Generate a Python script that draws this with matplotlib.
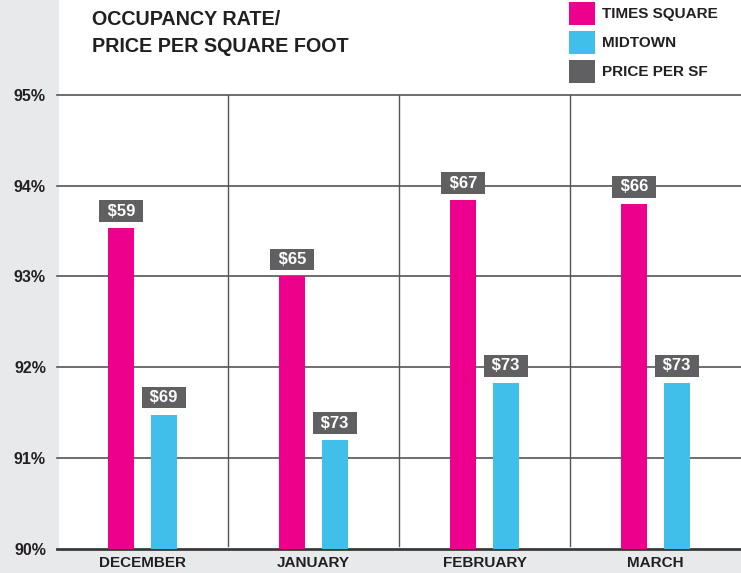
import matplotlib
matplotlib.use('Agg')
import matplotlib.pyplot as plt
from matplotlib.patches import Rectangle
import numpy as np

# Chart data
months = ['DECEMBER', 'JANUARY', 'FEBRUARY', 'MARCH']
times_square = [93.53, 93.00, 93.84, 93.80]
midtown = [91.48, 91.20, 91.83, 91.83]
price_times_square = [59, 65, 67, 66]
price_midtown = [69, 73, 73, 73]
y_ticks = [90, 91, 92, 93, 94, 95]
legend_labels = ['TIMES SQUARE', 'MIDTOWN', 'PRICE PER SF']

# Colours
pink = '#ec008c'
cyan = '#3fbfea'
dark = '#606062'
bg_gray = '#e8e9eb'
ink = '#231f20'
line_col = '#555555'

plt.rcParams['font.family'] = ['Liberation Sans', 'DejaVu Sans']

W, H = 741, 573
fig = plt.figure(figsize=(W / 100, H / 100), dpi=100, facecolor=bg_gray)

# White panel behind the plot
fig.patches.append(Rectangle((59 / W, (H - 550) / H), 1 - 59 / W, 550 / H,
                             transform=fig.transFigure, facecolor='white',
                             edgecolor='none', zorder=-5))

ax = fig.add_axes([57 / W, (H - 549) / H, 1 - 57 / W, (549 - 94.7) / H])
ax.set_zorder(1)
ax.set_facecolor('none')
ax.set_xlim(-0.5, 3.5)
ax.set_ylim(90, 95)
for s in ax.spines.values():
    s.set_visible(False)

# Horizontal grid lines
for t in y_ticks:
    ax.axhline(t, color='#3a3a3a' if t == 90 else line_col,
               lw=2.0 if t == 90 else 1.2, clip_on=False, zorder=1)

# Vertical separators between months
for xs in [0.5, 1.5, 2.5]:
    ax.axvline(xs, ymin=3 / 454, ymax=1, color=line_col, lw=1.0, zorder=1)

x = np.arange(len(months))
off = 0.125
bw = 0.152
ax.bar(x - off, times_square, width=bw, color=pink, zorder=2)
ax.bar(x + off, midtown, width=bw, color=cyan, zorder=2)

# Price labels above bars
def price_label(xpos, val, price):
    ax.annotate(' $%d ' % price, xy=(xpos, val), xytext=(0, 12.2),
                textcoords='offset points', ha='center', va='center',
                color='white', fontsize=12, fontweight='bold', zorder=3,
                bbox=dict(boxstyle='square,pad=0.2', facecolor=dark,
                          edgecolor='none'))

for i in range(len(months)):
    price_label(x[i] - off, times_square[i], price_times_square[i])
    price_label(x[i] + off, midtown[i], price_midtown[i])

ax.set_yticks(y_ticks)
ax.set_yticklabels(['%d%%' % t for t in y_ticks], fontsize=11.5,
                   fontweight='bold', color=ink)
ax.set_xticks(x)
ax.set_xticklabels(months, fontsize=11, fontweight='bold', color=ink)
ax.tick_params(axis='y', length=0, pad=8)
ax.tick_params(axis='x', length=0, pad=5)

# Title
fig.text(92 / W, 1 - 10 / H, 'OCCUPANCY RATE/\nPRICE PER SQUARE FOOT',
         ha='left', va='top', fontsize=14.2, fontweight='bold', color=ink,
         linespacing=1.5)

# Legend, drawn by hand in figure pixels
leg_colors = [pink, cyan, dark]
for k, (lab, col) in enumerate(zip(legend_labels, leg_colors)):
    top = 2 + 29 * k
    fig.patches.append(Rectangle((569 / W, 1 - (top + 23) / H), 26 / W, 23 / H,
                                 transform=fig.transFigure, facecolor=col,
                                 edgecolor='none', zorder=3))
    fig.text(602 / W, 1 - (top + 12) / H, lab, ha='left', va='center',
             fontsize=11, fontweight='bold', color=ink)

fig.savefig('out.png', dpi=100, facecolor=bg_gray)
